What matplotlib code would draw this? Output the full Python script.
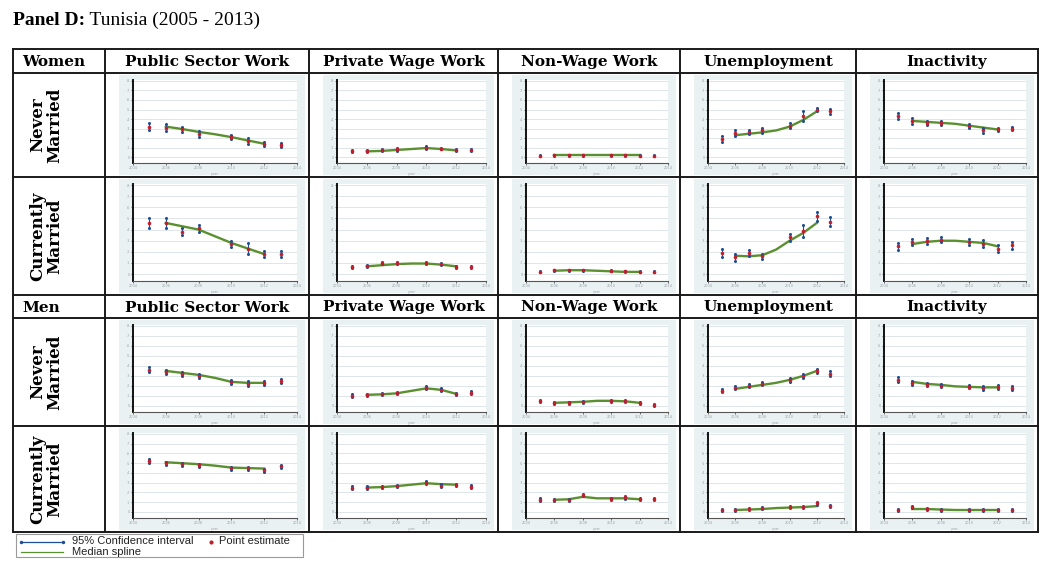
import matplotlib
matplotlib.use("Agg")
import matplotlib.pyplot as plt
from matplotlib.patches import Rectangle

# ---------------- data ----------------
YEARS = [2005, 2006, 2007, 2008, 2010, 2011, 2012, 2013]
SPLINE_YEARS = [2006, 2007, 2008, 2009, 2010, 2011, 2012]
OUTCOMES = ["Public Sector Work", "Private Wage Work", "Non-Wage Work",
            "Unemployment", "Inactivity"]
GROUPS = ["Women", "Men"]
STATUSES = ["Never\nMarried", "Currently\nMarried"]
YTICKS = [0, 0.1, 0.2, 0.3, 0.4, 0.5, 0.6, 0.7, 0.8]
YTICK_LABELS = ["0", ".1", ".2", ".3", ".4", ".5", ".6", ".7", ".8"]
XTICKS = [2004, 2006, 2008, 2010, 2012, 2014]

# Women, never married
women_never_est = [
    [0.32, 0.31, 0.29, 0.24, 0.21, 0.17, 0.14, 0.13],
    [0.06, 0.06, 0.07, 0.08, 0.10, 0.09, 0.07, 0.07],
    [0.015, 0.02, 0.02, 0.02, 0.02, 0.02, 0.015, 0.015],
    [0.19, 0.25, 0.26, 0.28, 0.33, 0.43, 0.50, 0.48],
    [0.43, 0.38, 0.36, 0.36, 0.33, 0.28, 0.29, 0.30],
]
women_never_ci = [
    [0.04, 0.035, 0.025, 0.03, 0.025, 0.035, 0.02, 0.02],
    [0.01, 0.01, 0.01, 0.015, 0.015, 0.01, 0.01, 0.01],
    [0.005, 0.005, 0.005, 0.005, 0.005, 0.005, 0.005, 0.005],
    [0.03, 0.03, 0.02, 0.03, 0.025, 0.055, 0.02, 0.03],
    [0.03, 0.03, 0.02, 0.02, 0.02, 0.03, 0.02, 0.02],
]
women_never_spl = [
    [0.32, 0.295, 0.265, 0.24, 0.21, 0.175, 0.14],
    [0.06, 0.065, 0.075, 0.085, 0.095, 0.085, 0.07],
    [0.02, 0.02, 0.02, 0.02, 0.02, 0.02, 0.02],
    [0.23, 0.245, 0.26, 0.28, 0.32, 0.39, 0.48],
    [0.38, 0.37, 0.36, 0.35, 0.33, 0.31, 0.29],
]

# Women, currently married
women_married_est = [
    [0.46, 0.46, 0.38, 0.41, 0.27, 0.23, 0.18, 0.18],
    [0.065, 0.07, 0.10, 0.10, 0.10, 0.09, 0.065, 0.065],
    [0.02, 0.035, 0.035, 0.035, 0.03, 0.025, 0.02, 0.02],
    [0.19, 0.15, 0.19, 0.16, 0.33, 0.39, 0.52, 0.47],
    [0.25, 0.29, 0.30, 0.31, 0.29, 0.275, 0.23, 0.26],
]
women_married_ci = [
    [0.045, 0.045, 0.03, 0.035, 0.03, 0.05, 0.025, 0.025],
    [0.01, 0.01, 0.01, 0.01, 0.01, 0.01, 0.01, 0.01],
    [0.005, 0.005, 0.005, 0.005, 0.005, 0.005, 0.005, 0.005],
    [0.04, 0.03, 0.025, 0.025, 0.035, 0.055, 0.04, 0.04],
    [0.03, 0.03, 0.025, 0.02, 0.025, 0.03, 0.03, 0.03],
]
women_married_spl = [
    [0.46, 0.43, 0.40, 0.34, 0.28, 0.23, 0.18],
    [0.07, 0.08, 0.09, 0.095, 0.095, 0.085, 0.07],
    [0.03, 0.035, 0.035, 0.03, 0.025, 0.02, 0.02],
    [0.165, 0.16, 0.17, 0.22, 0.30, 0.37, 0.46],
    [0.27, 0.29, 0.30, 0.30, 0.29, 0.28, 0.25],
]

# Men, never married
men_never_est = [
    [0.36, 0.34, 0.32, 0.30, 0.24, 0.22, 0.23, 0.25],
    [0.10, 0.11, 0.12, 0.13, 0.18, 0.16, 0.12, 0.13],
    [0.045, 0.025, 0.03, 0.04, 0.05, 0.045, 0.025, 0.01],
    [0.15, 0.18, 0.20, 0.22, 0.26, 0.30, 0.35, 0.32],
    [0.26, 0.23, 0.21, 0.20, 0.19, 0.18, 0.19, 0.18],
]
men_never_ci = [
    [0.025, 0.02, 0.02, 0.02, 0.02, 0.025, 0.02, 0.02],
    [0.015, 0.01, 0.01, 0.01, 0.015, 0.015, 0.01, 0.015],
    [0.01, 0.01, 0.01, 0.01, 0.01, 0.01, 0.01, 0.01],
    [0.015, 0.015, 0.015, 0.015, 0.02, 0.02, 0.02, 0.025],
    [0.025, 0.02, 0.015, 0.015, 0.015, 0.02, 0.02, 0.02],
]
men_never_spl = [
    [0.35, 0.33, 0.31, 0.28, 0.24, 0.23, 0.23],
    [0.11, 0.115, 0.125, 0.15, 0.175, 0.16, 0.12],
    [0.03, 0.035, 0.04, 0.05, 0.05, 0.045, 0.03],
    [0.17, 0.19, 0.21, 0.23, 0.26, 0.30, 0.35],
    [0.24, 0.22, 0.21, 0.195, 0.19, 0.185, 0.185],
]

# Men, currently married
men_married_est = [
    [0.52, 0.50, 0.49, 0.48, 0.45, 0.45, 0.43, 0.47],
    [0.25, 0.25, 0.26, 0.27, 0.30, 0.27, 0.28, 0.26],
    [0.125, 0.125, 0.125, 0.17, 0.135, 0.15, 0.13, 0.13],
    [0.02, 0.02, 0.03, 0.04, 0.05, 0.05, 0.09, 0.06],
    [0.02, 0.05, 0.03, 0.02, 0.02, 0.02, 0.02, 0.02],
]
men_married_ci = [
    [0.02, 0.015, 0.015, 0.015, 0.015, 0.015, 0.015, 0.015],
    [0.015, 0.015, 0.01, 0.01, 0.015, 0.015, 0.01, 0.015],
    [0.015, 0.012, 0.01, 0.01, 0.01, 0.012, 0.012, 0.01],
    [0.008, 0.008, 0.008, 0.008, 0.008, 0.008, 0.015, 0.01],
    [0.008, 0.008, 0.008, 0.008, 0.008, 0.008, 0.008, 0.008],
]
men_married_spl = [
    [0.51, 0.50, 0.49, 0.475, 0.455, 0.45, 0.445],
    [0.25, 0.255, 0.265, 0.28, 0.295, 0.285, 0.28],
    [0.125, 0.13, 0.155, 0.14, 0.14, 0.14, 0.13],
    [0.02, 0.025, 0.03, 0.04, 0.045, 0.05, 0.06],
    [0.03, 0.03, 0.025, 0.02, 0.02, 0.02, 0.02],
]

ROW_DATA = [
    (women_never_est, women_never_ci, women_never_spl),
    (women_married_est, women_married_ci, women_married_spl),
    (men_never_est, men_never_ci, men_never_spl),
    (men_married_est, men_married_ci, men_married_spl),
]

# ---------------- layout (pixels) ----------------
W, H = 1050, 564
COLS = [13, 105, 309, 498, 680, 856, 1038]
ROWS = [49, 73, 177, 295, 318, 426, 532]
DATA_ROWS = [(1, 2), (2, 3), (4, 5), (5, 6)]
HEADER_ROWS = [(0, 1), (3, 4)]

BLUE = "#1c4f94"
RED = "#c41e2a"
GREEN = "#5a9030"
PANEL_BG = "#eaf1f3"
GRID = "#dde6e9"
LINE = "#1a1a1a"

fig = plt.figure(figsize=(W / 100, H / 100), dpi=100)
fig.patch.set_facecolor("white")
ov = fig.add_axes([0, 0, 1, 1])
ov.set_xlim(0, W)
ov.set_ylim(H, 0)
ov.axis("off")

serif = ["Liberation Serif", "DejaVu Serif"]
hserif = ["DejaVu Serif"]
sans = ["Liberation Sans", "DejaVu Sans"]

# title
t1 = ov.text(13, 25, "Panel D:", fontsize=14, fontweight="bold",
             family=serif, ha="left", va="baseline")
ov.annotate(" Tunisia (2005 - 2013)", xy=(1, 0), xycoords=t1, fontsize=14,
            family=serif, ha="left", va="bottom")

# table lines
for y in ROWS:
    ov.plot([COLS[0], COLS[-1]], [y, y], color=LINE, lw=1.4,
            solid_capstyle="projecting")
for x in COLS:
    ov.plot([x, x], [ROWS[0], ROWS[-1]], color=LINE, lw=1.4,
            solid_capstyle="projecting")

# header rows
for g, (a, b) in zip(GROUPS, HEADER_ROWS):
    yc = (ROWS[a] + ROWS[b]) / 2 + 1
    ov.text(COLS[0] + 9, yc, g, fontsize=11, fontweight="bold", family=hserif,
            ha="left", va="center")
    for j, name in enumerate(OUTCOMES):
        xc = (COLS[j + 1] + COLS[j + 2]) / 2
        ov.text(xc, yc, name, fontsize=11, fontweight="bold", family=hserif,
                ha="center", va="center")


def fbox(x0, y0, x1, y1):
    return [x0 / W, 1 - y1 / H, (x1 - x0) / W, (y1 - y0) / H]


for r, (a, b) in enumerate(DATA_ROWS):
    y0, y1 = ROWS[a], ROWS[b]
    ov.text(46, (y0 + y1) / 2, STATUSES[r % 2], rotation=90, fontsize=12,
            fontweight="bold", family=hserif, ha="center", va="center",
            multialignment="center", linespacing=1.0)
    est_rows, ci_rows, spl_rows = ROW_DATA[r]
    for j in range(5):
        x0, x1 = COLS[j + 1], COLS[j + 2]
        ov.add_patch(Rectangle((x0 + 14, y0 + 2), (x1 - 4) - (x0 + 14),
                               (y1 - 2) - (y0 + 2), facecolor=PANEL_BG,
                               edgecolor="none"))
        ax = fig.add_axes(fbox(x0 + 28, y0 + 7, x1 - 12, y1 - 14))
        ax.set_facecolor("white")
        ax.set_xlim(2004, 2014)
        ax.set_ylim(-0.062, 0.81)
        ax.set_yticks(YTICKS)
        ax.set_yticklabels(YTICK_LABELS)
        ax.set_xticks(XTICKS)
        ax.set_xticklabels([str(v) for v in XTICKS])
        ax.tick_params(axis="both", labelsize=2.5, labelcolor="#9aa3a8",
                       length=1.5, width=0.5, pad=1, color="#333333")
        ax.set_xlabel("year", fontsize=2.5, color="#9aa3a8", labelpad=1)
        ax.grid(axis="y", color=GRID, lw=0.7)
        ax.set_axisbelow(True)
        for s in ("top", "right"):
            ax.spines[s].set_visible(False)
        ax.spines["left"].set_color("#111111")
        ax.spines["left"].set_linewidth(1.4)
        ax.spines["bottom"].set_color("#555555")
        ax.spines["bottom"].set_linewidth(0.8)

        est = est_rows[j]
        ci = ci_rows[j]
        spl = spl_rows[j]
        ax.plot(SPLINE_YEARS, spl, color=GREEN, lw=1.7, zorder=2)
        for xv, e, h in zip(YEARS, est, ci):
            ax.plot([xv, xv], [e - h, e + h], color=BLUE, lw=0.8, zorder=3,
                    marker="o", markersize=2.2, markeredgewidth=0)
        ax.plot(YEARS, est, linestyle="none", marker="o", color=RED,
                markersize=2.6, markeredgewidth=0, zorder=4)

# legend
ov.add_patch(Rectangle((16, 534), 287, 23, facecolor="white",
                       edgecolor="#9a9a9a", lw=0.8))
ov.plot([21, 63], [541.5, 541.5], color=BLUE, lw=0.9, marker="o",
        markersize=2.5, markeredgewidth=0)
ov.text(72, 541.5, "95% Confidence interval", fontsize=8, family=sans,
        ha="left", va="center", color="#222222")
ov.plot([211], [541.5], linestyle="none", marker="o", color=RED,
        markersize=3, markeredgewidth=0)
ov.text(219, 541.5, "Point estimate", fontsize=8, family=sans, ha="left",
        va="center", color="#222222")
ov.plot([21, 63], [552, 552], color=GREEN, lw=0.9)
ov.text(72, 552, "Median spline", fontsize=8, family=sans, ha="left",
        va="center", color="#222222")

fig.savefig("out.png", dpi=100)
